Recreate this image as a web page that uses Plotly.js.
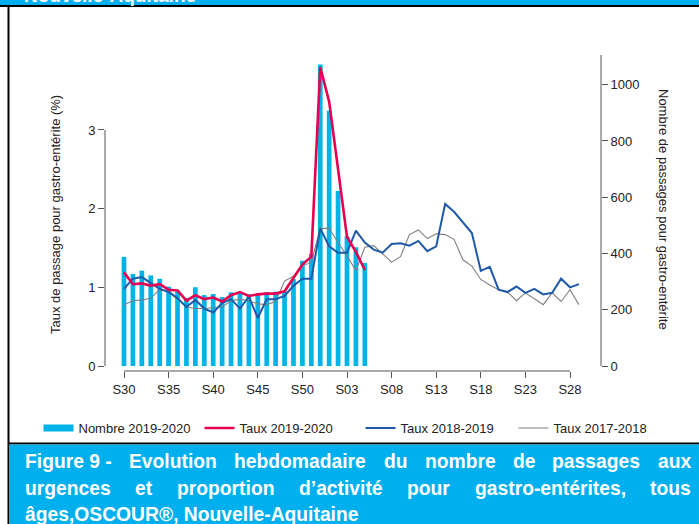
<!DOCTYPE html>
<html>
<head>
<meta charset="utf-8">
<script src="https://cdn.plot.ly/plotly-3.0.1.min.js"></script>
<style>
html,body{margin:0;padding:0;background:#fff;overflow:hidden}
#chart{width:699px;height:524px}
</style>
</head>
<body>
<div id="chart"></div>
<script>
// ---- Data ----
const semaines = ['S30','S31','S32','S33','S34','S35','S36','S37','S38','S39','S40','S41','S42','S43','S44','S45','S46','S47','S48','S49','S50','S51','S52',
  'S01','S02','S03','S04','S05','S06','S07','S08','S09','S10','S11','S12','S13','S14','S15','S16','S17','S18','S19','S20','S21','S22','S23','S24','S25','S26','S27','S28','S29'];
const tickSemaines = ['S30','S35','S40','S45','S50','S03','S08','S13','S18','S23','S28'];

const nombre2019_2020 = [388,327,339,322,310,282,268,242,280,252,256,245,262,264,255,252,262,264,265,309,374,399,1072,907,622,461,422,366];
const taux2019_2020 = [1.19,1.04,1.05,1.02,1.04,0.97,0.96,0.83,0.90,0.85,0.87,0.82,0.90,0.94,0.89,0.91,0.92,0.92,0.95,1.12,1.29,1.39,3.80,3.36,2.48,1.64,1.45,1.22];
const taux2018_2019 = [0.98,1.11,1.13,1.05,0.98,0.94,0.86,0.75,0.84,0.73,0.68,0.80,0.85,0.73,0.88,0.61,0.85,0.85,0.89,1.02,1.11,1.11,1.75,1.52,1.44,1.44,
  1.72,1.57,1.48,1.44,1.55,1.56,1.53,1.59,1.46,1.52,2.06,1.96,1.83,1.69,1.21,1.26,0.97,0.94,1.01,0.93,0.98,0.91,0.93,1.11,1.00,1.04];
const taux2017_2018 = [0.78,0.83,0.84,0.86,0.97,0.96,0.86,0.75,0.73,0.73,0.74,0.75,0.83,0.85,0.83,0.79,0.78,0.82,1.08,1.14,1.27,1.32,1.75,1.75,1.57,1.40,
  1.21,1.51,1.53,1.43,1.32,1.39,1.67,1.73,1.62,1.68,1.67,1.61,1.35,1.27,1.10,1.03,0.97,0.94,0.83,0.93,0.85,0.78,0.93,0.82,0.97,0.78];

const seriesNames = ['Nombre 2019-2020','Taux 2019-2020','Taux 2018-2019','Taux 2017-2018'];
const titreGauche = 'Taux de passage pour gastro-entérite (%)';
const titreDroite = 'Nombre de passages pour gastro-entérite';
const entete = 'Nouvelle-Aquitaine';
const legendeLignes = [
  ['Figure 9 -', 'Evolution', 'hebdomadaire', 'du', 'nombre', 'de', 'passages', 'aux'],
  ['urgences', 'et', 'proportion', 'd’activité', 'pour', 'gastro-entérites,', 'tous'],
  ['âges,OSCOUR®, Nouvelle-Aquitaine']
];

// ---- Geometry ----
const W = 699, H = 524;
const L = 105, R = 601, T = 55, B = 371;
const PW = R - L, PH = B - T;
const px2x = p => (p - L) / PW;
const py2y = p => (B - p) / PH;

const idx = semaines.map((s, i) => i);
const tickvals = idx.filter(i => tickSemaines.includes(semaines[i]));
const ticktext = tickvals.map(i => semaines[i]);

const x0pix = 124, weekPix = 8.92;
const xRange = [(L - x0pix) / weekPix, (R - x0pix) / weekPix];
const zeroPix = 366, ratePix = 78.67, countPix = 0.28133;
const rateRange = [(zeroPix - B) / ratePix, (zeroPix - T) / ratePix];
const countRange = [(zeroPix - B) / countPix, (zeroPix - T) / countPix];

const CYAN = '#00B0EE', BARC = '#00B4E8', RED = '#E6004F', BLUE = '#1F5AA8', GREY = '#808080';
const FONT = '"Liberation Sans", Arial, Helvetica, sans-serif';
const TXT = '#222222', AX = '#555555';
const FS = 13;

const traces = [
  {type:'bar', x: idx.slice(0, nombre2019_2020.length), y: nombre2019_2020, yaxis:'y', width:0.53,
   marker:{color:BARC, line:{width:0}}, name:seriesNames[0], showlegend:false, hoverinfo:'skip'},
  {type:'scatter', mode:'lines', x:[null], y:[null], yaxis:'y2', name:seriesNames[0],
   line:{color:BARC, width:7}, legendrank:1, hoverinfo:'skip', legend:'legend'},
  {type:'scatter', mode:'lines', x: idx.slice(0, taux2017_2018.length), y: taux2017_2018, yaxis:'y2',
   name:seriesNames[3], line:{color:GREY, width:1.1}, legendrank:4, legend:'legend2'},
  {type:'scatter', mode:'lines', x: idx.slice(0, taux2018_2019.length), y: taux2018_2019, yaxis:'y2',
   name:seriesNames[2], line:{color:BLUE, width:2}, legendrank:3, legend:'legend'},
  {type:'scatter', mode:'lines', x: idx.slice(0, taux2019_2020.length), y: taux2019_2020, yaxis:'y2',
   name:seriesNames[1], line:{color:RED, width:2.6}, legendrank:2, legend:'legend'}
];

const shapes = [
  // header band
  {type:'rect', xref:'paper', yref:'paper', x0:px2x(0), x1:px2x(W), y0:py2y(0), y1:py2y(5.5), fillcolor:CYAN, line:{width:0}, layer:'below'},
  {type:'rect', xref:'paper', yref:'paper', x0:px2x(0), x1:px2x(W), y0:py2y(5), y1:py2y(7), fillcolor:'#000', line:{width:0}, layer:'below'},
  // left border
  {type:'rect', xref:'paper', yref:'paper', x0:px2x(7.5), x1:px2x(9.5), y0:py2y(5), y1:py2y(H), fillcolor:'#000', line:{width:0}, layer:'below'},
  // caption box
  {type:'rect', xref:'paper', yref:'paper', x0:px2x(8), x1:px2x(W), y0:py2y(442.5), y1:py2y(444.5), fillcolor:'#000', line:{width:0}, layer:'below'},
  {type:'rect', xref:'paper', yref:'paper', x0:px2x(9.5), x1:px2x(W), y0:py2y(444.5), y1:py2y(H), fillcolor:CYAN, line:{width:0}, layer:'below'},
  // axis lines (R style)
  {type:'line', xref:'paper', yref:'y2', x0:0, x1:0, y0:0, y1:3, line:{color:AX, width:1}},
  {type:'line', xref:'paper', yref:'y', x0:1, x1:1, y0:0, y1:countRange[1], line:{color:AX, width:1}},
  {type:'line', xref:'x', yref:'paper', x0:tickvals[0], x1:tickvals[tickvals.length-1], y0:0, y1:0, line:{color:AX, width:1}}
];

const annotations = [
  {text:titreGauche, xref:'paper', yref:'paper', x:px2x(55), y:py2y(215), textangle:-90, showarrow:false,
   xanchor:'center', yanchor:'middle', font:{family:FONT, size:FS, color:TXT}},
  {text:titreDroite, xref:'paper', yref:'paper', x:px2x(664), y:py2y(209), textangle:90, showarrow:false,
   xanchor:'center', yanchor:'middle', font:{family:FONT, size:FS, color:TXT}},
  {text:'<b>'+entete+'</b>', xref:'paper', yref:'paper', x:px2x(22), y:py2y(-5), showarrow:false,
   xanchor:'left', yanchor:'middle', font:{family:FONT, size:19, color:'#fff'}}
];

// caption: justified lines
const capSize = 19.3;
const ctx = document.createElement('canvas').getContext('2d');
ctx.font = 'bold ' + capSize + 'px "Liberation Sans", Arial, sans-serif';
const capX0 = 25, capX1 = 691, capRows = [461, 488, 514];
legendeLignes.forEach((tokens, r) => {
  const widths = tokens.map(t => ctx.measureText(t).width);
  const total = widths.reduce((a, b) => a + b, 0);
  const justify = r < legendeLignes.length - 1 && tokens.length > 1;
  const gap = justify ? (capX1 - capX0 - total) / (tokens.length - 1) : 0;
  let x = capX0;
  tokens.forEach((t, i) => {
    annotations.push({text:'<b>'+t+'</b>', xref:'paper', yref:'paper', x:px2x(x - 2), y:py2y(capRows[r]),
      showarrow:false, xanchor:'left', yanchor:'middle', font:{family:FONT, size:capSize, color:'#fff'}});
    x += widths[i] + gap;
  });
});

const legendBase = {orientation:'h', xref:'container', yref:'container', y:(H-428)/H, xanchor:'left', yanchor:'middle',
  traceorder:'normal', entrywidth:116, entrywidthmode:'pixels', bgcolor:'rgba(0,0,0,0)',
  font:{family:FONT, size:FS, color:TXT}};

const axisFont = {family:FONT, size:FS, color:TXT};

const layout = {
  width:W, height:H,
  margin:{l:L, r:W-R, t:T, b:H-B, pad:0},
  paper_bgcolor:'#ffffff', plot_bgcolor:'rgba(0,0,0,0)',
  font:{family:FONT, size:FS, color:TXT},
  showlegend:true,
  legend:Object.assign({}, legendBase, {x:38.5/W}),
  legend2:Object.assign({}, legendBase, {x:513.5/W}),
  xaxis:{range:xRange, tickmode:'array', tickvals:tickvals, ticktext:ticktext, ticks:'outside', ticklen:6,
    tickwidth:1, tickcolor:AX, showline:false, showgrid:false, zeroline:false, tickfont:axisFont, fixedrange:true},
  yaxis:{range:countRange, side:'right', tickmode:'array', tickvals:[0,200,400,600,800,1000], ticks:'outside', ticklen:6,
    tickwidth:1, tickcolor:AX, showline:false, showgrid:false, zeroline:false, tickfont:axisFont, fixedrange:true},
  yaxis2:{range:rateRange, overlaying:'y', side:'left', tickmode:'array', tickvals:[0,1,2,3], ticks:'outside', ticklen:6,
    tickwidth:1, tickcolor:AX, showline:false, showgrid:false, zeroline:false, tickfont:axisFont, fixedrange:true},
  shapes:shapes,
  annotations:annotations
};

Plotly.newPlot('chart', traces, layout, {displayModeBar:false, staticPlot:true});
</script>
</body>
</html>
